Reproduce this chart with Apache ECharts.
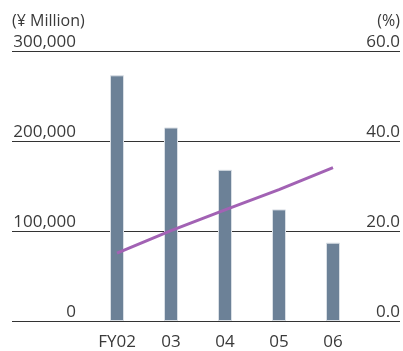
<!DOCTYPE html>
<html>
<head>
<meta charset="utf-8">
<script src="https://cdn.jsdelivr.net/npm/echarts@6/dist/echarts.min.js"></script>
<style>
  html, body { margin: 0; padding: 0; background: #fff; }
  #chart { width: 403px; height: 351px; }
</style>
</head>
<body>
<div id="chart"></div>
<script>
// Fiscal years on the category axis
const categories = ['FY02', '03', '04', '05', '06'];
// Bars, ¥ million (left scale)
const amountValues = [273000, 215000, 168000, 124000, 87000];
// Line, % (right scale)
const ratioValues = [15.1, 20.1, 24.7, 29.2, 34.1];
// Tick values for the two scales
const leftTicks = [0, 100000, 200000, 300000];
const rightTicks = [0, 20, 40, 60];

const FONT = '"Open Sans", "Noto Sans", sans-serif';
const TEXT = '#3a3a3a';

const chart = echarts.init(document.getElementById('chart'), null, { renderer: 'canvas' });

chart.setOption({
  animation: false,
  textStyle: { fontFamily: FONT },
  grid: [
    // full-width frame carrying the rules and the tick labels
    { left: 12, right: 3, top: 51, bottom: 30 },
    // narrower plot for the bars and the line
    { left: 90, right: 43, top: 51, bottom: 30 }
  ],
  xAxis: [
    { type: 'value', gridIndex: 0, show: false, min: 0, max: 1 },
    {
      type: 'category', gridIndex: 1, data: categories, boundaryGap: true,
      axisLine: { show: false }, axisTick: { show: false },
      axisLabel: { color: TEXT, fontSize: 17, fontFamily: FONT, margin: 13 }
    }
  ],
  yAxis: [
    {
      type: 'value', gridIndex: 0, position: 'left',
      min: leftTicks[0], max: leftTicks[leftTicks.length - 1], interval: leftTicks[1] - leftTicks[0],
      name: '(¥ Million)', nameLocation: 'end', nameGap: 22,
      nameTextStyle: { color: TEXT, fontSize: 16, fontFamily: FONT, align: 'left', padding: 0 },
      axisLine: { show: false }, axisTick: { show: false },
      splitLine: { show: true, lineStyle: { color: '#333', width: 1 } },
      axisLabel: {
        inside: true, align: 'right', verticalAlign: 'bottom', margin: 64,
        color: TEXT, fontSize: 17, fontFamily: FONT, padding: [0, 0, 0, 0],
        formatter: v => v.toLocaleString('en-US')
      }
    },
    {
      type: 'value', gridIndex: 0, position: 'right',
      min: rightTicks[0], max: rightTicks[rightTicks.length - 1], interval: rightTicks[1] - rightTicks[0],
      name: '(%)', nameLocation: 'end', nameGap: 22,
      nameTextStyle: { color: TEXT, fontSize: 16, fontFamily: FONT, align: 'right', padding: 0 },
      axisLine: { show: false }, axisTick: { show: false },
      splitLine: { show: false },
      axisLabel: {
        inside: true, align: 'right', verticalAlign: 'bottom', margin: 0,
        color: TEXT, fontSize: 17, fontFamily: FONT, padding: [0, 0, 0, 0],
        formatter: v => v.toFixed(1)
      }
    },
    {
      type: 'value', gridIndex: 1, show: false,
      min: leftTicks[0], max: leftTicks[leftTicks.length - 1], splitLine: { show: false }
    },
    {
      type: 'value', gridIndex: 1, show: false,
      min: rightTicks[0], max: rightTicks[rightTicks.length - 1], splitLine: { show: false }
    }
  ],
  series: [
    {
      type: 'bar', name: 'Amount', xAxisIndex: 1, yAxisIndex: 2,
      data: amountValues, barWidth: 14,
      itemStyle: { color: '#6c8197', borderColor: '#d9dfe5', borderWidth: 1 }
    },
    {
      type: 'line', name: 'Ratio', xAxisIndex: 1, yAxisIndex: 3,
      data: ratioValues, showSymbol: false, symbol: 'none',
      lineStyle: { color: '#a262b4', width: 3 }
    }
  ]
});
</script>
</body>
</html>
